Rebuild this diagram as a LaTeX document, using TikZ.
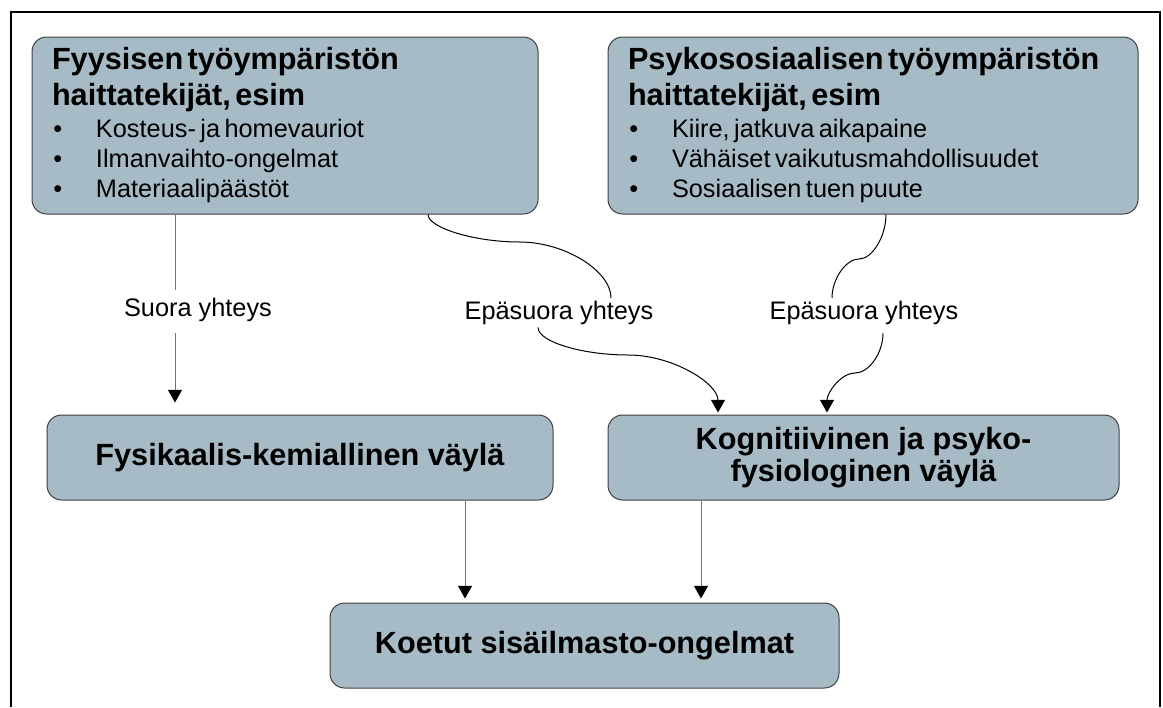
\documentclass[tikz,border=0pt]{standalone}
\usepackage{fontspec}
\setmainfont{Liberation Sans}
\usetikzlibrary{arrows.meta}
\setlength{\parindent}{0pt}
\definecolor{boxfill}{RGB}{167,187,199}
\definecolor{boxline}{RGB}{64,64,64}
\definecolor{linkgray}{RGB}{115,115,115}
\newcommand{\boxtitle}{\fontsize{23}{27}\selectfont\bfseries}
\newcommand{\boxitem}{\fontsize{19}{22.5}\selectfont\mdseries}
\newcommand{\bul}{\makebox[33pt][l]{\hspace{1pt}•}}
\begin{document}
\begin{tikzpicture}[x=0.75pt,y=-0.75pt,>={Triangle[width=10.5pt,length=9.5pt,color=black]},
    box/.style={draw=boxline,fill=boxfill,line width=0.75pt,rounded corners=11pt,inner xsep=15pt,minimum height=63.75pt},
    route/.style={font=\fontsize{23}{24.5}\selectfont\bfseries,align=center},
    lbl/.style={inner xsep=0pt,inner ysep=2pt,font=\fontsize{19}{22.5}\selectfont},
    straight/.style={draw=linkgray,line width=0.75pt},
    curve/.style={draw=black,line width=0.75pt}]
        \useasboundingbox (0,0) rectangle (1163,707);
        \draw[line width=1.5pt] (11,707) -- (11,12) -- (1160,12) -- (1160,707);
        % sources
        \node[box, minimum width=379.5pt, minimum height=132.75pt, text width=349.5pt, align=left] (fyys) at (285,125.5)
            {{\boxtitle Fyysisen työympäristön\\haittatekijät, esim\par}\vspace{1.5pt}%
             {\boxitem\bul Kosteus- ja homevauriot\\\bul Ilmanvaihto-ongelmat\\\bul Materiaalipäästöt\par}};
        \node[box, minimum width=397.5pt, minimum height=132.75pt, text width=367.5pt, align=left] (psyk) at (873,125.5)
            {{\boxtitle Psykososiaalisen työympäristön\\haittatekijät, esim\par}\vspace{1.5pt}%
             {\boxitem\bul Kiire, jatkuva aikapaine\\\bul Vähäiset vaikutusmahdollisuudet\\\bul Sosiaalisen tuen puute\par}};
        % routes
        \node[box, route, minimum width=379.5pt] (fysk) at (300,457.5) {Fysikaalis-kemiallinen väylä};
        \node[box, route, minimum width=383.25pt] (kogn) at (863.5,457.5) {Kognitiivinen ja psyko-\\fysiologinen väylä};
        \node[box, route, minimum width=381.75pt] (koet) at (584.5,645.5) {Koetut sisäilmasto-ongelmat};
        % labels
        \node[lbl] (suora) at (198,309.6) {Suora yhteys};
        \node[lbl] (epa1) at (559,312.6) {Epäsuora yhteys};
        \node[lbl] (epa2) at (864,312.6) {Epäsuora yhteys};
        % connectors
        \draw[straight, shorten >=3.9pt] (fyys.south -| 175,0) -- (suora.north -| 175,0);
        \draw[straight, ->, shorten <=6.75pt, shorten >=9pt] (suora.south -| 175,0) -- (fysk.north -| 175,0);
        \draw[curve] (fyys.south -| 428,0) .. controls (428,227.5) and (473.75,242) .. (519.5,242)
            .. controls (565,242) and (611,271) .. (epa1.north -| 611,0);
        \draw[curve, ->, shorten >=1.5pt] (epa1.south -| 538,0) .. controls (538,342) and (583,355) .. (628,355)
            .. controls (673,355) and (718,383.5) .. (kogn.north -| 718,0);
        \draw[curve] (psyk.south -| 886,0) .. controls (886,236) and (872.5,259) .. (859,259)
            .. controls (845.5,259) and (832,279.5) .. (epa2.north -| 832,0);
        \draw[curve, ->, shorten <=4.5pt, shorten >=1.5pt] (epa2.south -| 883,0) .. controls (883,353) and (869,373) .. (855,373)
            .. controls (841,373) and (827,392.5) .. (kogn.north -| 827,0);
        \draw[straight, ->, shorten >=3pt] (fysk.south -| 465,0) -- (koet.north -| 465,0);
        \draw[straight, ->, shorten >=3pt] (kogn.south -| 701,0) -- (koet.north -| 701,0);
\end{tikzpicture}
\end{document}
